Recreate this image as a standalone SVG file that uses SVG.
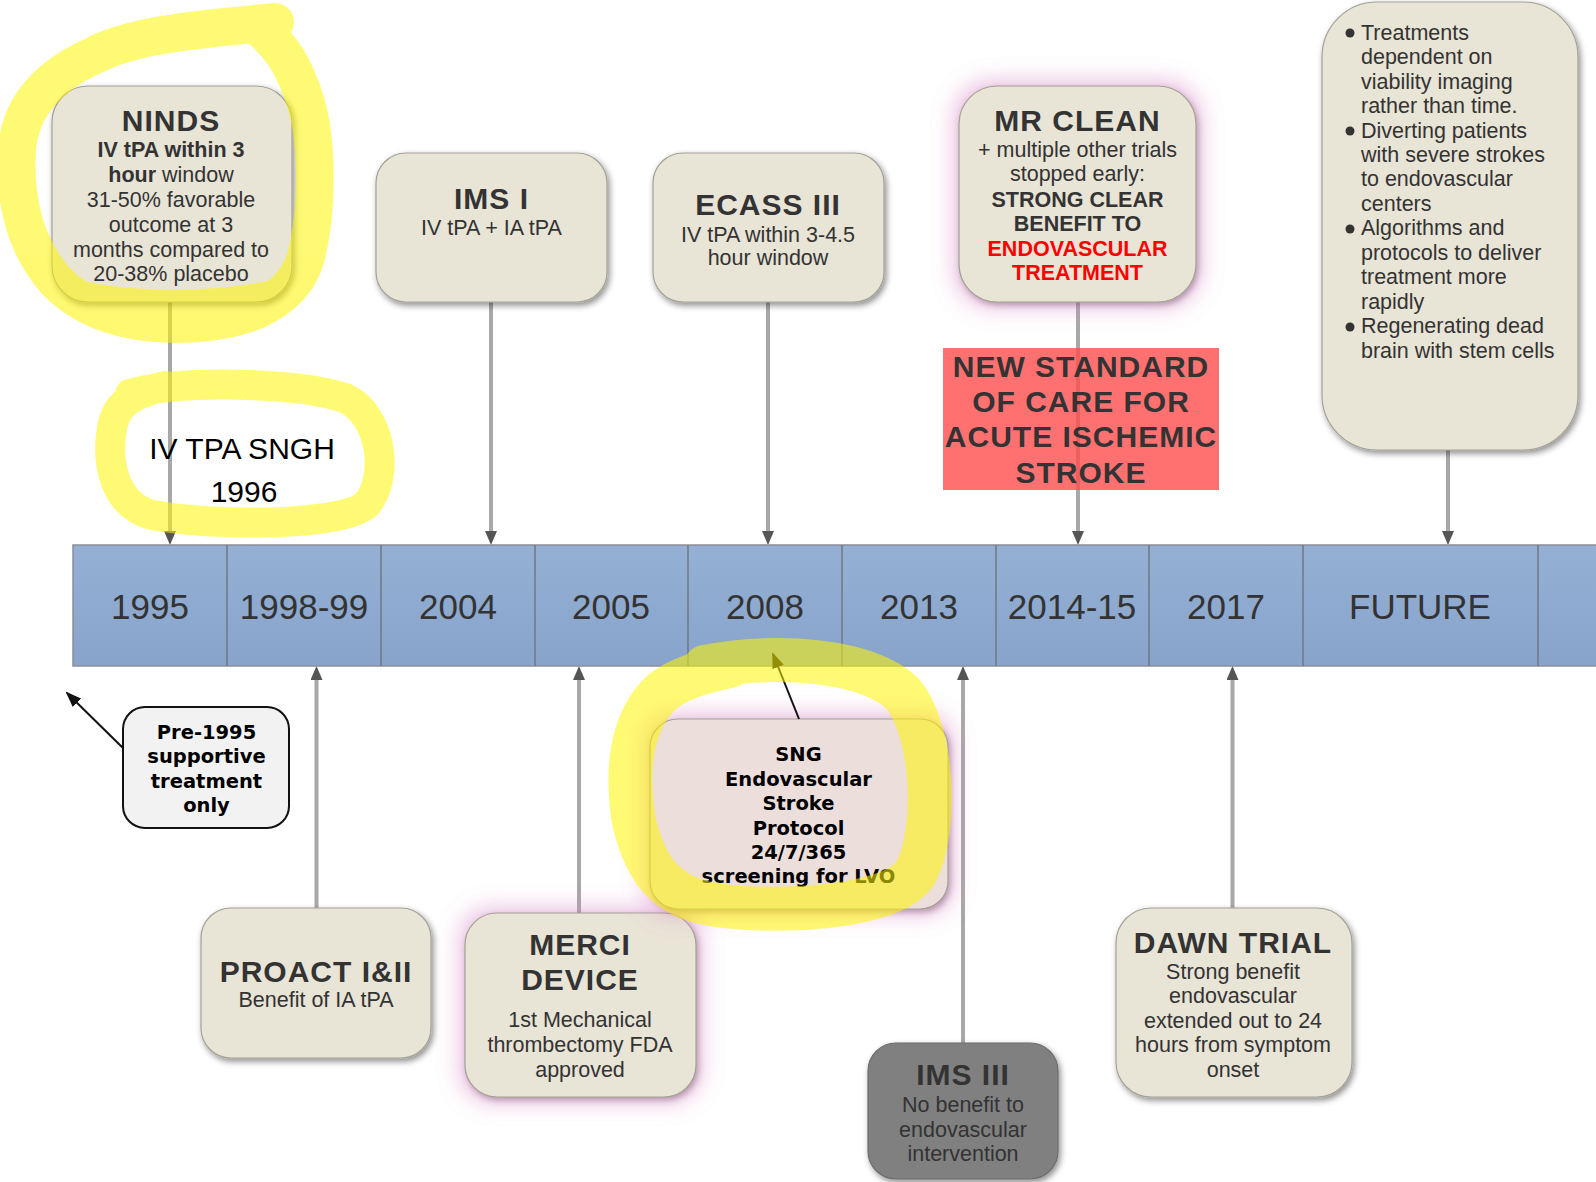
<svg xmlns="http://www.w3.org/2000/svg" width="1596" height="1182" viewBox="0 0 1596 1182">
  <style>
    .box { fill: #e8e4d6; stroke: #a4a196; stroke-width: 1.2; }
    .t { font-family: "Liberation Sans", Arial, Helvetica, sans-serif; fill: #333; text-anchor: middle; }
    .h { font-size: 30px; font-weight: 700; letter-spacing: 1px; }
    .b { font-size: 21.5px; }
    .bb { font-size: 21.5px; font-weight: 700; }
    .red { fill: #ff0000; }
    .v { font-family: "DejaVu Sans", Verdana, sans-serif; font-weight: 700; font-size: 19.5px; fill: #000; text-anchor: middle; }
    .yr { font-size: 35px; }
    .ns { font-size: 30px; font-weight: 700; letter-spacing: 1px; }
    .li { font-family: "Liberation Sans", Arial, Helvetica, sans-serif; fill: #333; font-size: 21.5px; }
    .conn { stroke: #a8a8a8; stroke-width: 4; fill: none; }
    .blk { stroke: #111; stroke-width: 2; fill: none; }
    .hl { fill: none; stroke: #fff500; stroke-linecap: round; stroke-linejoin: round; }
  </style>
  <defs>
    <linearGradient id="barFill" x1="0" y1="0" x2="0" y2="1">
      <stop offset="0" stop-color="#95b0d4"/>
      <stop offset="1" stop-color="#88a4cb"/>
    </linearGradient>
    <filter id="shadow" x="-10%" y="-10%" width="130%" height="130%">
      <feGaussianBlur in="SourceAlpha" stdDeviation="3"/>
      <feOffset dx="2" dy="3" result="b"/>
      <feFlood flood-color="#000" flood-opacity="0.45"/>
      <feComposite in2="b" operator="in"/>
      <feMerge><feMergeNode/><feMergeNode in="SourceGraphic"/></feMerge>
    </filter>
    <filter id="glow" x="-30%" y="-30%" width="160%" height="160%">
      <feMorphology in="SourceAlpha" operator="dilate" radius="5" result="d"/>
      <feGaussianBlur in="d" stdDeviation="11" result="g"/>
      <feFlood flood-color="#d884c4" flood-opacity="0.5"/>
      <feComposite in2="g" operator="in" result="pink"/>
      <feGaussianBlur in="SourceAlpha" stdDeviation="3"/>
      <feOffset dx="2" dy="3" result="b"/>
      <feFlood flood-color="#000" flood-opacity="0.4"/>
      <feComposite in2="b" operator="in" result="sh"/>
      <feMerge><feMergeNode in="pink"/><feMergeNode in="sh"/><feMergeNode in="SourceGraphic"/></feMerge>
    </filter>
    <marker id="tip" viewBox="0 0 14 12" refX="5" refY="6" markerWidth="14" markerHeight="12" markerUnits="userSpaceOnUse" orient="auto">
      <path d="M0,0 L14,6 L0,12 z" fill="#555"/>
    </marker>
    <marker id="tipBlack" viewBox="0 0 16 12" refX="14" refY="6" markerWidth="16" markerHeight="12" markerUnits="userSpaceOnUse" orient="auto">
      <path d="M0,0 L16,6 L0,12 z" fill="#111"/>
    </marker>
  </defs>

  <rect width="1596" height="1182" fill="#fff"/>

  <!-- connectors from event boxes to the timeline -->
  <g id="connectors">
    <line class="conn" x1="170" y1="302" x2="170" y2="536" marker-end="url(#tip)"/>
    <line class="conn" x1="491" y1="302" x2="491" y2="536" marker-end="url(#tip)"/>
    <line class="conn" x1="768" y1="302" x2="768" y2="536" marker-end="url(#tip)"/>
    <line class="conn" x1="1078" y1="302" x2="1078" y2="536" marker-end="url(#tip)"/>
    <line class="conn" x1="1448" y1="450" x2="1448" y2="536" marker-end="url(#tip)"/>
    <line class="conn" x1="316.5" y1="908" x2="316.5" y2="675" marker-end="url(#tip)"/>
    <line class="conn" x1="579" y1="913" x2="579" y2="675" marker-end="url(#tip)"/>
    <line class="conn" x1="963" y1="1043" x2="963" y2="675" marker-end="url(#tip)"/>
    <line class="conn" x1="1232.5" y1="908" x2="1232.5" y2="675" marker-end="url(#tip)"/>
  </g>

  <!-- timeline bar -->
  <g id="timeline">
    <rect x="73" y="545" width="1540" height="121" fill="url(#barFill)" stroke="#8b8f96" stroke-width="1.5"/>
    <g stroke="#6f7884" stroke-width="1.5">
      <line x1="227" y1="545" x2="227" y2="666"/>
      <line x1="381" y1="545" x2="381" y2="666"/>
      <line x1="535" y1="545" x2="535" y2="666"/>
      <line x1="688" y1="545" x2="688" y2="666"/>
      <line x1="842" y1="545" x2="842" y2="666"/>
      <line x1="996" y1="545" x2="996" y2="666"/>
      <line x1="1149" y1="545" x2="1149" y2="666"/>
      <line x1="1303" y1="545" x2="1303" y2="666"/>
      <line x1="1538" y1="545" x2="1538" y2="666"/>
    </g>
    <g class="t yr">
      <text x="150" y="619">1995</text>
      <text x="304" y="619">1998-99</text>
      <text x="458" y="619">2004</text>
      <text x="611" y="619">2005</text>
      <text x="765" y="619">2008</text>
      <text x="919" y="619">2013</text>
      <text x="1072" y="619">2014-15</text>
      <text x="1226" y="619">2017</text>
      <text x="1420" y="619">FUTURE</text>
    </g>
  </g>

  <g id="ninds">
    <rect class="box" x="52" y="86" width="240" height="216" rx="36" filter="url(#shadow)"/>
    <text class="t h" x="171" y="131">NINDS</text>
    <text class="t bb" x="171" y="157">IV tPA within 3</text>
    <text class="t b" x="171" y="182"><tspan font-weight="700">hour</tspan> window</text>
    <text class="t b" x="171" y="207">31-50% favorable</text>
    <text class="t b" x="171" y="232">outcome at 3</text>
    <text class="t b" x="171" y="257">months compared to</text>
    <text class="t b" x="171" y="281">20-38% placebo</text>
  </g>

  <g id="ims1">
    <rect class="box" x="376" y="153" width="231" height="149" rx="30" filter="url(#shadow)"/>
    <text class="t h" x="491.5" y="209">IMS I</text>
    <text class="t b" x="491.5" y="235">IV tPA + IA tPA</text>
  </g>

  <g id="ecass3">
    <rect class="box" x="653" y="153" width="231" height="149" rx="30" filter="url(#shadow)"/>
    <text class="t h" x="768" y="215">ECASS III</text>
    <text class="t b" x="768" y="242">IV tPA within 3-4.5</text>
    <text class="t b" x="768" y="265">hour window</text>
  </g>

  <g id="mrclean">
    <rect class="box" x="959" y="86" width="237" height="216" rx="38" filter="url(#glow)"/>
    <text class="t h" x="1077.5" y="131">MR CLEAN</text>
    <text class="t b" x="1077.5" y="157">+ multiple other trials</text>
    <text class="t b" x="1077.5" y="181">stopped early:</text>
    <text class="t bb" x="1077.5" y="207">STRONG CLEAR</text>
    <text class="t bb" x="1077.5" y="231">BENEFIT TO</text>
    <text class="t bb red" x="1077.5" y="256">ENDOVASCULAR</text>
    <text class="t bb red" x="1077.5" y="280">TREATMENT</text>
  </g>

  <g id="new-standard">
    <rect x="943" y="348" width="276" height="142" fill="#ff4d4d" fill-opacity="0.8"/>
    <text class="t ns" x="1081" y="377">NEW STANDARD</text>
    <text class="t ns" x="1081" y="412">OF CARE FOR</text>
    <text class="t ns" x="1081" y="447">ACUTE ISCHEMIC</text>
    <text class="t ns" x="1081" y="483">STROKE</text>
  </g>

  <g id="future">
    <rect class="box" x="1322" y="2" width="256" height="448" rx="55" filter="url(#shadow)"/>
    <g fill="#333">
      <circle cx="1350" cy="33" r="4.5"/>
      <circle cx="1350" cy="131" r="4.5"/>
      <circle cx="1350" cy="229" r="4.5"/>
      <circle cx="1350" cy="327" r="4.5"/>
    </g>
    <g class="li">
      <text x="1361" y="39.5">Treatments</text>
      <text x="1361" y="64">dependent on</text>
      <text x="1361" y="88.5">viability imaging</text>
      <text x="1361" y="113">rather than time.</text>
      <text x="1361" y="137.5">Diverting patients</text>
      <text x="1361" y="162">with severe strokes</text>
      <text x="1361" y="186">to endovascular</text>
      <text x="1361" y="210.5">centers</text>
      <text x="1361" y="235">Algorithms and</text>
      <text x="1361" y="259.5">protocols to deliver</text>
      <text x="1361" y="284">treatment more</text>
      <text x="1361" y="308.5">rapidly</text>
      <text x="1361" y="333">Regenerating dead</text>
      <text x="1361" y="357.5">brain with stem cells</text>
    </g>
  </g>

  <g id="proact">
    <rect class="box" x="201" y="908" width="230" height="150" rx="30" filter="url(#shadow)"/>
    <text class="t h" x="316" y="982">PROACT I&amp;II</text>
    <text class="t b" x="316" y="1007">Benefit of IA tPA</text>
  </g>

  <g id="merci">
    <rect class="box" x="465" y="913" width="231" height="184" rx="32" filter="url(#glow)"/>
    <text class="t h" x="580" y="955">MERCI</text>
    <text class="t h" x="580" y="990">DEVICE</text>
    <text class="t b" x="580" y="1027">1st Mechanical</text>
    <text class="t b" x="580" y="1052">thrombectomy FDA</text>
    <text class="t b" x="580" y="1077">approved</text>
  </g>

  <g id="sng-protocol">
    <rect x="650" y="719" width="298" height="190" rx="28" fill="#ecdedb" stroke="#a4a196" stroke-width="1.2" filter="url(#glow)"/>
    <text class="v" x="798.5" y="761">SNG</text>
    <text class="v" x="798.5" y="786">Endovascular</text>
    <text class="v" x="798.5" y="810">Stroke</text>
    <text class="v" x="798.5" y="835">Protocol</text>
    <text class="v" x="798.5" y="859">24/7/365</text>
    <text class="v" x="798.5" y="883">screening for LVO</text>
    <line class="blk" x1="799" y1="719" x2="773" y2="654" marker-end="url(#tipBlack)"/>
  </g>

  <g id="ims3">
    <rect x="868" y="1043" width="190" height="136" rx="28" fill="#808080" stroke="#6c6c6c" stroke-width="1.2" filter="url(#shadow)"/>
    <text class="t h" x="963" y="1085" fill="#2a2a2a">IMS III</text>
    <text class="t b" x="963" y="1112" fill="#2a2a2a">No benefit to</text>
    <text class="t b" x="963" y="1137" fill="#2a2a2a">endovascular</text>
    <text class="t b" x="963" y="1161" fill="#2a2a2a">intervention</text>
  </g>

  <g id="dawn">
    <rect class="box" x="1116" y="908" width="236" height="189" rx="35" filter="url(#shadow)"/>
    <text class="t h" x="1233" y="953">DAWN TRIAL</text>
    <text class="t b" x="1233" y="979">Strong benefit</text>
    <text class="t b" x="1233" y="1003">endovascular</text>
    <text class="t b" x="1233" y="1028">extended out to 24</text>
    <text class="t b" x="1233" y="1052">hours from symptom</text>
    <text class="t b" x="1233" y="1077">onset</text>
  </g>

  <g id="pre-1995">
    <rect x="123" y="707" width="166" height="121" rx="22" fill="#f2f2f2" stroke="#111" stroke-width="2"/>
    <text class="v" x="206.5" y="739">Pre-1995</text>
    <text class="v" x="206.5" y="763">supportive</text>
    <text class="v" x="206.5" y="788">treatment</text>
    <text class="v" x="206.5" y="812">only</text>
    <line class="blk" x1="123" y1="748" x2="67" y2="693" marker-end="url(#tipBlack)"/>
  </g>

  <g id="sngh-1996">
    <text x="242" y="459" font-family="'Liberation Sans', Arial, sans-serif" font-size="30" fill="#000" text-anchor="middle">IV TPA SNGH</text>
    <text x="244" y="502" font-family="'Liberation Sans', Arial, sans-serif" font-size="30" fill="#000" text-anchor="middle">1996</text>
  </g>

  <!-- highlighter strokes: each loop is flattened, then made translucent -->
  <g id="highlights">
    <g opacity="0.55">
      <path class="hl" stroke-width="38" d="M275 22 C220 28, 140 32, 95 55 C50 75, 20 105, 17 150 C14 200, 25 245, 55 280 C85 312, 130 324, 175 324 C240 324, 290 305, 305 260 C318 215, 318 140, 305 100 C295 70, 285 50, 262 30"/>
      <path class="hl" stroke-width="26" d="M75 292 C120 305, 220 308, 285 290"/>
    </g>
    <g opacity="0.55">
      <path class="hl" stroke-width="30" d="M130 394 C180 380, 295 382, 345 398 C382 415, 390 478, 366 505 C338 527, 210 526, 152 515 C114 505, 106 462, 112 428 C116 404, 130 395, 165 386"/>
    </g>
    <g opacity="0.55">
      <path class="hl" stroke-width="44" d="M705 667 C780 653, 866 660, 902 693 C934 730, 938 830, 916 872 C894 910, 765 915, 705 903 C660 893, 644 862, 634 822 C626 772, 630 722, 662 692 C678 679, 700 672, 730 666"/>
    </g>
  </g>
</svg>
